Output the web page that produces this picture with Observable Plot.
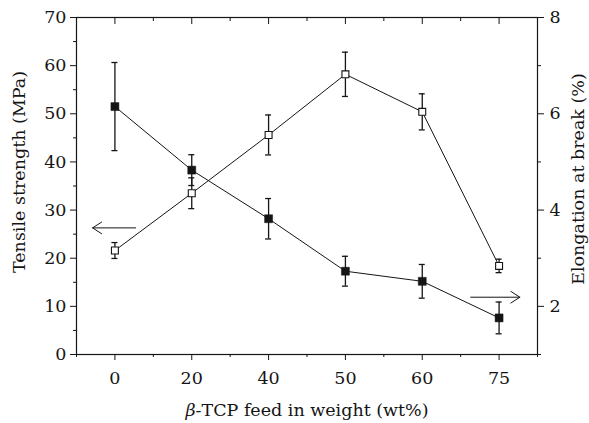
<!DOCTYPE html>
<html><head><meta charset="utf-8">
<script src="https://cdn.jsdelivr.net/npm/d3@7"></script>
<script src="https://cdn.jsdelivr.net/npm/@observablehq/plot@0.6"></script>
<style>
body{margin:0;background:#fff}
#chart svg text { font-family: "DejaVu Serif" !important; font-size: 17.5px !important; }
</style>
</head><body><div id="chart"></div>
<script>
// Categories (β-TCP feed, wt%)
const feeds = ["0", "20", "40", "50", "60", "75"];
// Tensile strength (MPa), open squares, left axis
const tensile = [21.6, 33.5, 45.6, 58.2, 50.4, 18.4];
const tensileErr = [1.65, 3.2, 4.15, 4.6, 3.75, 1.4];
// Elongation at break (%), filled squares, right axis
const elongation = [6.15, 4.83, 3.82, 2.73, 2.52, 1.76];
const elongationErr = [0.915, 0.32, 0.42, 0.31, 0.35, 0.33];
// Axis ticks
const leftTicks = [0, 10, 20, 30, 40, 50, 60, 70];
const leftMinor = [5, 15, 25, 35, 45, 55, 65];
const rightTicks = [2, 4, 6, 8];
const rightMinor = [1, 3, 5, 7];
// Annotation arrows (x in category index units, y in axis units)
const arrowLeft = {from: 0.27, to: -0.29, y: 26.3};      // tensile axis
const arrowRight = {from: 4.63, to: 5.27, y: 2.19};      // elongation axis

// right axis (1..8) mapped onto left axis (0..70)
const toLeft = v => (v - 1) * 10;

const idx = d3.range(feeds.length);
const tData = idx.map(i => ({i, v: tensile[i], lo: tensile[i] - tensileErr[i], hi: tensile[i] + tensileErr[i]}));
const eData = idx.map(i => ({i, v: toLeft(elongation[i]), lo: toLeft(elongation[i] - elongationErr[i]), hi: toLeft(elongation[i] + elongationErr[i])}));
const minorX = d3.range(-0.5, feeds.length, 1);
const arrows = [
  {x1: arrowLeft.from, x2: arrowLeft.to, y: arrowLeft.y},
  {x1: arrowRight.from, x2: arrowRight.to, y: toLeft(arrowRight.y)}
];

const ink = "#151515";
const chart = Plot.plot({
  width: 589,
  height: 423,
  marginLeft: 76,
  marginRight: 52,
  marginTop: 17,
  marginBottom: 69,
  style: {color: ink, background: "#fff"},
  x: {type: "linear", domain: [-0.5, feeds.length - 0.5], axis: null},
  y: {domain: [0, 70], axis: null},
  marks: [
    Plot.frame({stroke: ink, strokeWidth: 1.2}),
    // left axis
    Plot.axisY(leftTicks, {anchor: "left", tickSize: 6, tickPadding: 4, label: null, stroke: ink}),
    Plot.axisY(leftMinor, {anchor: "left", tickSize: 3, tickFormat: () => "", label: null, stroke: ink}),
    // right axis
    Plot.axisY(rightTicks.map(toLeft), {anchor: "right", tickSize: 6, tickPadding: 6, tickFormat: d => String(d / 10 + 1), label: null, stroke: ink}),
    Plot.axisY(rightMinor.map(toLeft), {anchor: "right", tickSize: 3, tickFormat: () => "", label: null, stroke: ink}),
    // bottom axis
    Plot.axisX(idx, {anchor: "bottom", tickSize: 6, tickPadding: 11, tickFormat: i => feeds[i], label: null, stroke: ink}),
    Plot.axisX(minorX, {anchor: "bottom", tickSize: 3, tickFormat: () => "", label: null, stroke: ink}),
    // top axis (inward ticks)
    Plot.axisX(idx, {anchor: "top", tickSize: 6, dy: 6, tickFormat: () => "", label: null, stroke: ink}),
    Plot.axisX(minorX, {anchor: "top", tickSize: 3, dy: 3, tickFormat: () => "", label: null, stroke: ink}),
    // axis titles
    Plot.text(["Tensile strength (MPa)"], {frameAnchor: "left", dx: -57, dy: -14, rotate: -90, textAnchor: "middle", lineAnchor: "middle", text: d => d, fill: ink}),
    Plot.text(["Elongation at break (%)"], {frameAnchor: "right", dx: 41, dy: -7, rotate: -90, textAnchor: "middle", lineAnchor: "middle", text: d => d, fill: ink}),
    Plot.text(["β-TCP feed in weight (wt%)"], {frameAnchor: "bottom", dy: 56, textAnchor: "middle", lineAnchor: "middle", text: d => d, fill: ink}),
    // lines
    Plot.line(tData, {x: "i", y: "v", stroke: ink, strokeWidth: 1}),
    Plot.line(eData, {x: "i", y: "v", stroke: ink, strokeWidth: 1}),
    // error bars
    Plot.ruleX(tData, {x: "i", y1: "lo", y2: "hi", stroke: ink, strokeWidth: 1.3}),
    Plot.ruleX(eData, {x: "i", y1: "lo", y2: "hi", stroke: ink, strokeWidth: 1.3}),
    Plot.ruleY(tData, {x1: "i", x2: "i", y: "lo", insetLeft: -3, insetRight: -3, stroke: ink, strokeWidth: 1.3}),
    Plot.ruleY(tData, {x1: "i", x2: "i", y: "hi", insetLeft: -3, insetRight: -3, stroke: ink, strokeWidth: 1.3}),
    Plot.ruleY(eData, {x1: "i", x2: "i", y: "lo", insetLeft: -3, insetRight: -3, stroke: ink, strokeWidth: 1.3}),
    Plot.ruleY(eData, {x1: "i", x2: "i", y: "hi", insetLeft: -3, insetRight: -3, stroke: ink, strokeWidth: 1.3}),
    // markers
    Plot.dot(eData, {x: "i", y: "v", symbol: "square", r: 4.5, fill: ink, stroke: ink, strokeWidth: 0.5}),
    Plot.dot(tData, {x: "i", y: "v", symbol: "square", r: 3.9, fill: "#fff", stroke: ink, strokeWidth: 1.1}),
    // arrows
    Plot.arrow(arrows, {x1: "x1", x2: "x2", y1: "y", y2: "y", stroke: ink, strokeWidth: 1, headLength: 16, headAngle: 66})
  ]
});
// italic β in the x-axis title
d3.select(chart).selectAll("text").each(function() {
  if (this.textContent === "β-TCP feed in weight (wt%)") {
    const t = d3.select(this);
    t.text(null);
    t.append("tspan").attr("font-style", "italic").text("β");
    t.append("tspan").text("-TCP feed in weight (wt%)");
  }
});
document.getElementById("chart").appendChild(chart);
</script>
</body></html>
